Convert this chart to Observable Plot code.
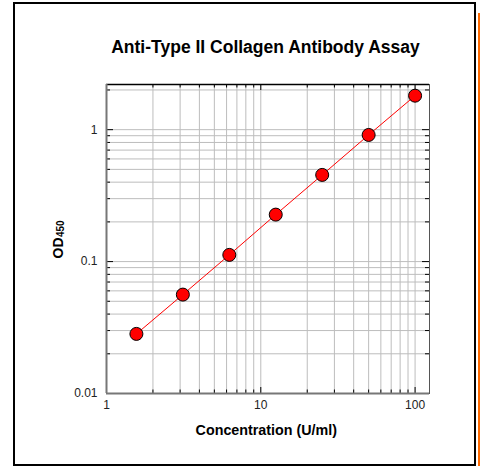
<!DOCTYPE html>
<html><head><meta charset="utf-8">
<script src="https://cdn.jsdelivr.net/npm/d3@7"></script>
<script src="https://cdn.jsdelivr.net/npm/@observablehq/plot@0.6"></script>
<style>
body{margin:0;background:#fff;font-family:"Liberation Sans",Arial,sans-serif;}
#wrap{position:relative;width:480px;height:466px;overflow:hidden;background:#fff;}
#border{position:absolute;left:13px;top:2px;width:459px;height:460px;border:2.5px solid #000;pointer-events:none;}
#orange{position:absolute;left:478px;top:13px;width:2px;height:453px;background:#ff6a00;}
#chart{position:absolute;left:0;top:0;}
</style>
</head><body>
<div id="wrap"><div id="chart"></div><div id="border"></div><div id="orange"></div></div>
<script>
const title = "Anti-Type II Collagen Antibody Assay";
const xLabel = "Concentration (U/ml)";
const yLabelMain = "OD";
const yLabelSub = "450";
const conc = [1.5625, 3.125, 6.25, 12.5, 25, 50, 100];
const od = [0.0283, 0.0562, 0.1124, 0.227, 0.454, 0.912, 1.81];
const xDomain = [1, 124];
const yDomain = [0.01, 2.2];
const xMajor = [1, 10, 100];
const yMajor = [0.01, 0.1, 1];
const xMinor = [2,3,4,5,6,7,8,9,20,30,40,50,60,70,80,90];
const yMinor = [0.02,0.03,0.04,0.05,0.06,0.07,0.08,0.09,0.2,0.3,0.4,0.5,0.6,0.7,0.8,0.9,2];

const data = conc.map((c, i) => ({c, od: od[i]}));

const W = 480, H = 466, mL = 106, mR = 51, mT = 84, mB = 73;
const pw = W - mL - mR, ph = H - mT - mB;
const font = "'Liberation Sans', Arial, sans-serif";

const chart = Plot.plot({
  width: W, height: H,
  marginLeft: mL, marginRight: mR, marginTop: mT, marginBottom: mB,
  x: {type: "log", domain: xDomain},
  y: {type: "log", domain: yDomain},
  style: {fontFamily: font, fontSize: "12px", color: "#222", background: "transparent", overflow: "visible"},
  marks: [
    Plot.gridX([...xMinor, ...xMajor], {stroke: "#bdbdbd", strokeOpacity: 1, strokeWidth: 1}),
    Plot.gridY([...yMinor, ...yMajor], {stroke: "#bdbdbd", strokeOpacity: 1, strokeWidth: 1}),
    // inward ticks bottom/top
    Plot.tickX(xMajor, {x: d => d, insetTop: ph - 6, stroke: "#000"}),
    Plot.tickX(xMinor, {x: d => d, insetTop: ph - 3.5, stroke: "#000"}),
    Plot.tickX(xMajor, {x: d => d, insetBottom: ph - 6, stroke: "#000"}),
    Plot.tickX(xMinor, {x: d => d, insetBottom: ph - 3.5, stroke: "#000"}),
    // inward ticks left/right
    Plot.tickY(yMajor, {y: d => d, insetRight: pw - 7, stroke: "#000"}),
    Plot.tickY(yMinor, {y: d => d, insetRight: pw - 4, stroke: "#000"}),
    Plot.tickY(yMajor, {y: d => d, insetLeft: pw - 7, stroke: "#000"}),
    Plot.tickY(yMinor, {y: d => d, insetLeft: pw - 4, stroke: "#000"}),
    Plot.frame({stroke: "#555", strokeWidth: 1}),
    Plot.ruleY([yDomain[1]], {stroke: "#000", strokeWidth: 1.5}),
    Plot.ruleX([xDomain[0]], {stroke: "#777", strokeWidth: 2}),
    Plot.ruleY([yDomain[0]], {stroke: "#777", strokeWidth: 2}),
    Plot.axisX(xMajor, {tickSize: 0, tickPadding: 7, tickFormat: d => String(d), label: null, fontSize: 12}),
    Plot.axisY(yMajor, {tickSize: 0, tickPadding: 9, tickFormat: d => String(d), label: null, fontSize: 12}),
    Plot.line(data, {x: "c", y: "od", stroke: "#ff0000", strokeWidth: 1}),
    Plot.dot(data, {x: "c", y: "od", r: 6.5, fill: "#ff0000", stroke: "#000", strokeWidth: 1}),
    Plot.text([title], {text: d => d, frameAnchor: "top", lineAnchor: "bottom", dy: 52 - mT, dx: -2.5, fontSize: 17.5, fontWeight: "bold", fill: "#000"}),
    Plot.text([xLabel], {text: d => d, frameAnchor: "bottom", lineAnchor: "bottom", dy: 434 - (H - mB), dx: -1.7, fontSize: 14.3, fontWeight: "bold", fill: "#000"}),
    Plot.text([yLabelMain], {text: d => d, frameAnchor: "left", rotate: -90, textAnchor: "end", lineAnchor: "bottom", dx: 62.5 - mL, dy: 237 - (mT + ph / 2), fontSize: 14, fontWeight: "bold", fill: "#000"}),
    Plot.text([yLabelSub], {text: d => d, frameAnchor: "left", rotate: -90, textAnchor: "start", lineAnchor: "bottom", dx: 63.5 - mL, dy: 236.5 - (mT + ph / 2), fontSize: 10, fontWeight: "bold", fill: "#000"})
  ]
});
document.getElementById("chart").appendChild(chart);
</script>
</body></html>
